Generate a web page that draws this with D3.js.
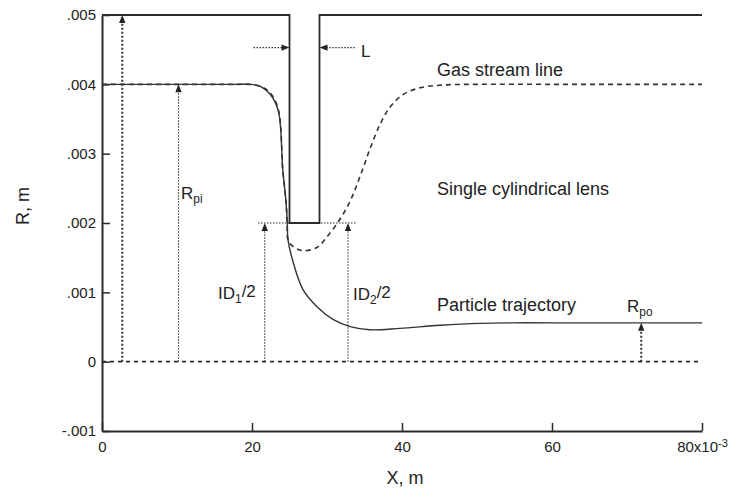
<!DOCTYPE html>
<html>
<head>
<meta charset="utf-8">
<script src="https://cdn.jsdelivr.net/npm/d3@7"></script>
<style>
  html, body { margin: 0; padding: 0; background: #fff; }
  svg { display: block; font-family: "Liberation Sans", Arial, Helvetica, sans-serif; }
</style>
</head>
<body>
<svg id="chart" width="739" height="489"></svg>
<script>
// ---- data (x in 1e-3 m, R in m) ----
const xTicks = [0, 20, 40, 60, 80];
const yTicks = [-0.001, 0, 0.001, 0.002, 0.003, 0.004, 0.005];
const yTickLabels = ["-.001", "0", ".001", ".002", ".003", ".004", ".005"];

// lens electrode wall outline
const wallX = [0, 25, 25, 29, 29, 80];
const wallR = [0.005, 0.005, 0.002, 0.002, 0.005, 0.005];

// gas stream line
const gasX = [0, 10, 18, 19.7, 21.1, 22.4, 23.5, 24.1, 24.5, 24.7, 24.8, 25.5, 26.8, 28.7, 30.0, 31.7, 33.1, 34.4, 35.7, 37.1, 38.4, 40.1, 42.4, 45.5, 50, 60, 70, 80];
const gasR = [0.0040, 0.0040, 0.0040, 0.0040, 0.00397, 0.00388, 0.00364, 0.00277, 0.00234, 0.00202, 0.00176, 0.00166, 0.00160, 0.00165, 0.00180, 0.00205, 0.00232, 0.00267, 0.00306, 0.00343, 0.00367, 0.00385, 0.00395, 0.00399, 0.0040, 0.0040, 0.0040, 0.0040];

// particle trajectory
const partX = [0, 10, 18, 19.7, 21.1, 22.4, 23.5, 24.1, 24.5, 24.7, 24.8, 25.5, 26.8, 28.7, 30.8, 33.1, 35.7, 39.7, 45.1, 50.4, 55, 60, 70, 80];
const partR = [0.0040, 0.0040, 0.0040, 0.0040, 0.00397, 0.00386, 0.00362, 0.00277, 0.00234, 0.00202, 0.00176, 0.00143, 0.00104, 0.00079, 0.00061, 0.000505, 0.00046, 0.00048, 0.000525, 0.000553, 0.00056, 0.00056, 0.00056, 0.00056];

// dimension arrows (vertical, from axis up to a radius)
const dimX = [2.7, 10.2, 21.7, 32.8, 71.9];
const dimTop = [0.005, 0.004, 0.002, 0.002, 0.00056];
const dimHeavy = [true, false, false, false, true];

// ---- layout ----
const svg = d3.select("#chart");
const margin = { left: 102, top: 15, right: 37, bottom: 58 };
const W = 739, H = 489;
const x = d3.scaleLinear().domain([0, 80]).range([margin.left, W - margin.right]);
const y = d3.scaleLinear().domain([-0.001, 0.005]).range([H - margin.bottom, margin.top]);
const ink = "#2a2a2a";

// axes
const yAxis = d3.axisLeft(y).tickValues(yTicks)
  .tickFormat((d, i) => yTickLabels[i]).tickSizeInner(-8).tickSizeOuter(0).tickPadding(6);
const gy = svg.append("g").attr("transform", `translate(${margin.left},0)`).call(yAxis);
gy.select(".domain").attr("stroke", ink).attr("stroke-width", 2);
gy.selectAll(".tick line").attr("stroke", ink).attr("stroke-width", 1.5);
gy.selectAll(".tick text").attr("font-size", 15).attr("fill", "#222")
  .attr("font-family", "Liberation Sans, Arial, sans-serif");

const xAxis = d3.axisBottom(x).tickValues(xTicks)
  .tickFormat(d => d3.format("d")(d)).tickSizeInner(-8).tickSizeOuter(0).tickPadding(6);
const gx = svg.append("g").attr("transform", `translate(0,${y(-0.001)})`).call(xAxis);
gx.select(".domain").attr("stroke", ink).attr("stroke-width", 2);
gx.selectAll(".tick line").attr("stroke", ink).attr("stroke-width", 1.5);
gx.selectAll(".tick text").attr("font-size", 15).attr("fill", "#222")
  .attr("font-family", "Liberation Sans, Arial, sans-serif").attr("dy", "1.0em");
gx.selectAll(".tick text").filter(d => d === 80).each(function() {
  const t = d3.select(this);
  t.text("80x10");
  t.append("tspan").attr("dy", "-0.45em").attr("font-size", 11).text("-3");
});

// axis titles
svg.append("text").attr("x", (x(0) + x(80)) / 2 + 3).attr("y", 484)
  .attr("text-anchor", "middle").attr("font-size", 18).attr("fill", "#222").text("X, m");
svg.append("text").attr("transform", `translate(29,${206}) rotate(-90)`)
  .attr("text-anchor", "middle").attr("font-size", 18).attr("fill", "#222").text("R, m");

// zero centerline
svg.append("line").attr("x1", x(0)).attr("x2", x(80)).attr("y1", y(0)).attr("y2", y(0))
  .attr("stroke", ink).attr("stroke-width", 1.6).attr("stroke-dasharray", "4,4");

// wall
const lineFn = d3.line().x(d => x(d[0])).y(d => y(d[1]));
svg.append("path").datum(wallX.map((v, i) => [v, wallR[i]])).attr("d", lineFn)
  .attr("fill", "none").attr("stroke", ink).attr("stroke-width", 1.8);

// curves
const curveFn = d3.line().x(d => x(d[0])).y(d => y(d[1])).curve(d3.curveCatmullRom.alpha(0.5));
svg.append("path").datum(partX.map((v, i) => [v, partR[i]])).attr("d", curveFn)
  .attr("fill", "none").attr("stroke", "#333").attr("stroke-width", 1.4);
svg.append("path").datum(gasX.map((v, i) => [v, gasR[i]])).attr("d", curveFn)
  .attr("fill", "none").attr("stroke", "#333").attr("stroke-width", 1.6).attr("stroke-dasharray", "5,4");

// arrowhead helper
function arrowHead(px, py, dir) {
  const L = 8, w = 3.2;
  let pts;
  if (dir === "up") pts = [[px, py], [px - w, py + L], [px + w, py + L]];
  else if (dir === "right") pts = [[px, py], [px - L, py - w], [px - L, py + w]];
  else pts = [[px, py], [px + L, py - w], [px + L, py + w]];
  svg.append("path").attr("d", "M" + pts.map(p => p.join(",")).join("L") + "Z").attr("fill", "#222");
}

// vertical dimension arrows
dimX.forEach((dx, i) => {
  svg.append("line").attr("x1", x(dx)).attr("x2", x(dx)).attr("y1", y(0)).attr("y2", y(dimTop[i]) + 6)
    .attr("stroke", "#333").attr("stroke-width", dimHeavy[i] ? 2 : 1.1)
    .attr("stroke-dasharray", dimHeavy[i] ? "2,2" : "1.5,1.5");
  arrowHead(x(dx), y(dimTop[i]), "up");
});

// horizontal dotted at lens bore radius
svg.append("line").attr("x1", x(20.8)).attr("x2", x(34)).attr("y1", y(0.002)).attr("y2", y(0.002))
  .attr("stroke", "#333").attr("stroke-width", 1.1).attr("stroke-dasharray", "1.5,1.5");

// L dimension
const Ly = 0.00453;
svg.append("line").attr("x1", x(20.2)).attr("x2", x(25) - 6).attr("y1", y(Ly)).attr("y2", y(Ly))
  .attr("stroke", "#333").attr("stroke-width", 1.1).attr("stroke-dasharray", "1.5,1.5");
arrowHead(x(25), y(Ly), "right");
svg.append("line").attr("x1", x(33.7)).attr("x2", x(29) + 6).attr("y1", y(Ly)).attr("y2", y(Ly))
  .attr("stroke", "#333").attr("stroke-width", 1.1).attr("stroke-dasharray", "1.5,1.5");
arrowHead(x(29), y(Ly), "left");

// text labels
function label(tx, ty, main, sub, size) {
  const s = size || 17;
  const t = svg.append("text").attr("x", tx).attr("y", ty).attr("font-size", s).attr("fill", "#222").text(main);
  if (sub) {
    t.append("tspan").attr("dy", "0.3em").attr("font-size", s * 0.7).text(sub[0]);
    if (sub[1]) t.append("tspan").attr("dy", "-0.3em").text(sub[1]);
  }
  return t;
}
label(361, 57, "L");
label(437, 76, "Gas stream line", null, 18);
label(437, 195, "Single cylindrical lens", null, 18);
label(437, 311, "Particle trajectory", null, 18);
label(181, 199, "R", ["pi"]);
label(627, 312, "R", ["po"]);
label(218, 299, "ID", ["1", "/2"]);
label(353, 300, "ID", ["2", "/2"]);
</script>
</body>
</html>
